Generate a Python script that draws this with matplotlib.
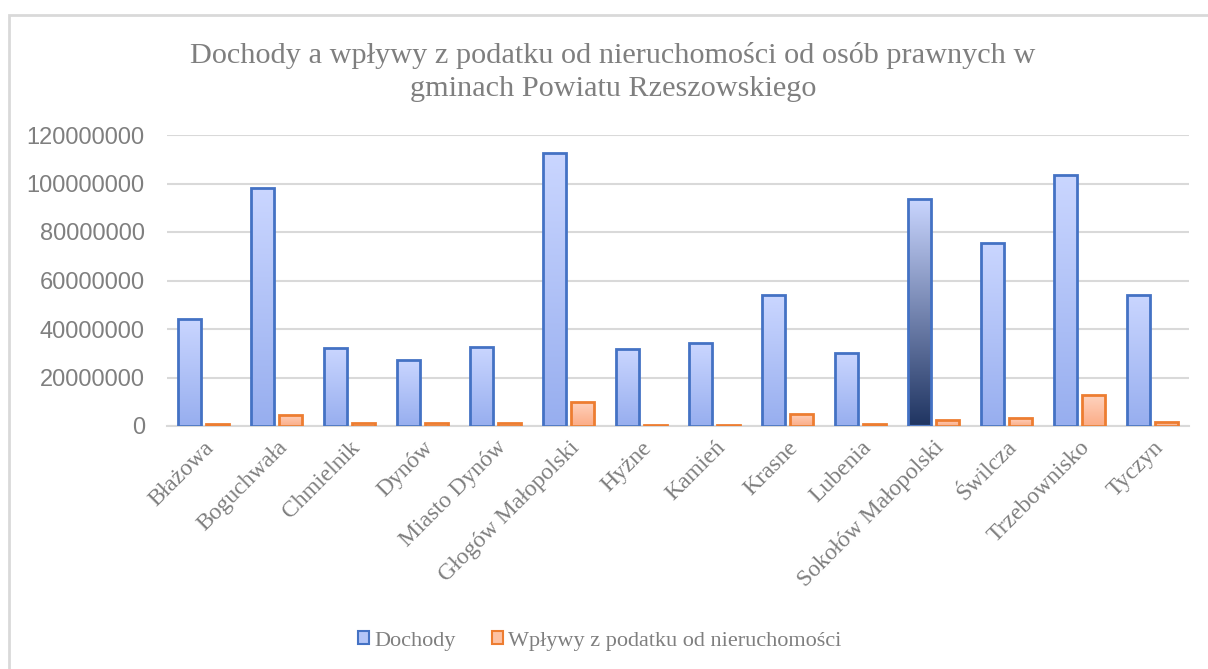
import numpy as np
import matplotlib
matplotlib.use("Agg")
import matplotlib.pyplot as plt
from matplotlib.colors import LinearSegmentedColormap
from matplotlib.patches import Rectangle, Patch

gminy = ["Błażowa", "Boguchwała", "Chmielnik", "Dynów", "Miasto Dynów",
         "Głogów Małopolski", "Hyżne", "Kamień", "Krasne", "Lubenia",
         "Sokołów Małopolski", "Świlcza", "Trzebownisko", "Tyczyn"]
dochody = [44.2e6, 98.0e6, 32.3e6, 27.3e6, 32.7e6, 112.7e6, 31.8e6,
           34.2e6, 54.0e6, 30.1e6, 93.7e6, 75.6e6, 103.4e6, 54.1e6]
wplywy = [0.8e6, 4.7e6, 1.2e6, 1.2e6, 1.2e6, 10.0e6, 0.5e6,
          0.4e6, 5.1e6, 0.9e6, 2.5e6, 3.2e6, 12.7e6, 1.8e6]

grey = "#7f7f7f"
serif = ["Liberation Serif", "DejaVu Serif"]
sans = ["Liberation Sans", "DejaVu Sans"]

# gradients: bottom colour -> top colour
blue_cm = LinearSegmentedColormap.from_list("b", ["#97aeef", "#cad6ff"])
dark_cm = LinearSegmentedColormap.from_list("d", ["#1f3461", "#cad6ff"])
orange_cm = LinearSegmentedColormap.from_list("o", ["#fcac86", "#fed3bf"])

fig = plt.figure(figsize=(12.08, 6.69), dpi=100)
ax = fig.add_axes([167 / 1208, 1 - 426 / 669, 1022 / 1208, 291 / 669])

# light frame round the chart area
fig.patches.append(Rectangle((9 / 1208, -0.05), 1.1, 1 - 15 / 669 + 0.05,
                             transform=fig.transFigure, fill=False,
                             edgecolor="#d9d9d9", linewidth=2))

x = np.arange(len(gminy))
w = 0.31
off = 0.19
grad = np.linspace(0, 1, 256).reshape(-1, 1)


def gradient_bars(xs, vals, cmap, edge, special=None):
    bars = ax.bar(xs, vals, w, facecolor="none", edgecolor=edge,
                  linewidth=2, zorder=3)
    for i, b in enumerate(bars):
        cm = special if (special is not None and i == 10) else cmap
        im = ax.imshow(grad, cmap=cm, aspect="auto", origin="lower",
                       extent=[b.get_x(), b.get_x() + w, 0, b.get_height()],
                       zorder=2)
        im.set_clip_path(b)
    return bars


gradient_bars(x - off, dochody, blue_cm, "#4472c4", special=dark_cm)
gradient_bars(x + off, wplywy, orange_cm, "#ed7d31")

ax.set_xlim(-0.5, len(gminy) - 0.5)
ax.set_ylim(0, 120e6)
ax.set_yticks(np.arange(0, 120e6 + 1, 20e6))
ax.set_yticklabels([f"{int(v)}" for v in np.arange(0, 120e6 + 1, 20e6)],
                   family=sans, fontsize=17, color=grey)
ax.set_xticks(x)
ax.set_xticklabels(gminy, rotation=45, ha="right", rotation_mode="anchor",
                   family=serif, fontsize=17, color=grey)
ax.tick_params(length=0, pad=8)
ax.tick_params(axis="y", pad=16)
ax.grid(axis="y", color="#d9d9d9", linewidth=1.5, zorder=0)
ax.set_axisbelow(True)
for s in ["top", "right", "left"]:
    ax.spines[s].set_visible(False)
ax.spines["bottom"].set_color("#d9d9d9")
ax.spines["bottom"].set_linewidth(1.5)

fig.text(613 / 1208, 1 - 72 / 669,
         "Dochody a wpływy z podatku od nieruchomości od osób prawnych w\n"
         "gminach Powiatu Rzeszowskiego",
         ha="center", va="center", family=serif, fontsize=21.8, color=grey,
         linespacing=1.35)

handles = [Patch(facecolor="#b3c5f8", edgecolor="#4472c4", linewidth=1.5),
           Patch(facecolor="#fdc2a4", edgecolor="#ed7d31", linewidth=1.5)]
fig.legend(handles, ["Dochody", "Wpływy z podatku od nieruchomości"],
           loc="center", bbox_to_anchor=(600 / 1208, 1 - 641 / 669), ncol=2,
           frameon=False, prop={"family": serif, "size": 16},
           labelcolor=grey, handlelength=0.5, handleheight=0.5,
           handletextpad=0.25, columnspacing=1.6)

fig.savefig("out.png", dpi=100, facecolor="white")
